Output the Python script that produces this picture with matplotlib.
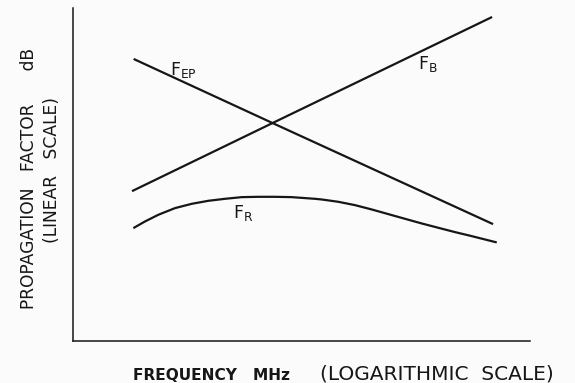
import numpy as np
import matplotlib
matplotlib.use("Agg")
import matplotlib.pyplot as plt

# ---- data (schematic values) ----
# frequency in MHz (log axis), propagation factor in dB (linear axis)
freq_ep = [2.5, 20.3, 572]
f_ep = [84.7, 65.5, 35.1]

freq_b = [2.44, 20.3, 564]
f_b = [45.0, 65.4, 97.3]

freq_r = [2.49, 2.97, 3.63, 4.67, 6.02, 7.73, 9.95, 12.8, 16.5, 21.2, 27.3,
          38.8, 42.9, 55.2, 71.0, 91.4, 117.5, 151, 194.5, 250, 322, 414, 605]
f_r = [33.9, 35.9, 37.9, 39.9, 41.2, 42.1, 42.7, 43.2, 43.3, 43.3, 43.2,
       42.7, 42.5, 41.8, 40.8, 39.5, 38.1, 36.7, 35.3, 34.0, 32.7, 31.5, 29.6]

x_label_a = "FREQUENCY   MHz"
x_label_b = "(LOGARITHMIC  SCALE)"
y_label_a = "PROPAGATION   FACTOR      dB"
y_label_b = "(LINEAR   SCALE)"

W, H = 575, 383
bg = "#fbfbfb"
ink = "#161616"

fig = plt.figure(figsize=(W / 100, H / 100), dpi=100, facecolor=bg)
ax = fig.add_axes([73 / W, 1 - 341 / H, (530 - 73) / W, (341 - 8) / H])
ax.set_facecolor(bg)
ax.set_xscale("log")
ax.set_xlim(1, 1000)
ax.set_ylim(0, 100)

for xs, ys in [(freq_ep, f_ep), (freq_b, f_b), (freq_r, f_r)]:
    ax.plot(xs, ys, color=ink, lw=1.6, solid_capstyle="butt", solid_joinstyle="round")

for s in ["top", "right"]:
    ax.spines[s].set_visible(False)
for s in ["left", "bottom"]:
    ax.spines[s].set_color(ink)
    ax.spines[s].set_linewidth(1.1)
ax.set_xticks([])
ax.set_yticks([])
ax.minorticks_off()
ax.tick_params(which="both", length=0)

def px(x, y):
    return x / W, 1 - y / H

# curve labels
fig.text(*px(170, 75), r"$\mathregular{F_{EP}}$", fontsize=12.5, color=ink, ha="left", va="baseline")
fig.text(*px(418, 69), r"$\mathregular{F_{B}}$", fontsize=12.5, color=ink, ha="left", va="baseline")
fig.text(*px(233, 218), r"$\mathregular{F_{R}}$", fontsize=12.5, color=ink, ha="left", va="baseline")

# axis labels
fig.text(*px(133, 380), x_label_a, fontsize=11.1, fontweight="bold", color=ink, ha="left", va="baseline")
fig.text(*px(437, 380), x_label_b, fontsize=14.5, color=ink, ha="center", va="baseline")
fig.text(*px(29, 178), y_label_a, fontsize=12.3, color=ink, rotation=90, ha="center", va="center")
fig.text(*px(52, 170), y_label_b, fontsize=12.3, color=ink, rotation=90, ha="center", va="center")

fig.savefig("out.png", dpi=100, facecolor=bg)
